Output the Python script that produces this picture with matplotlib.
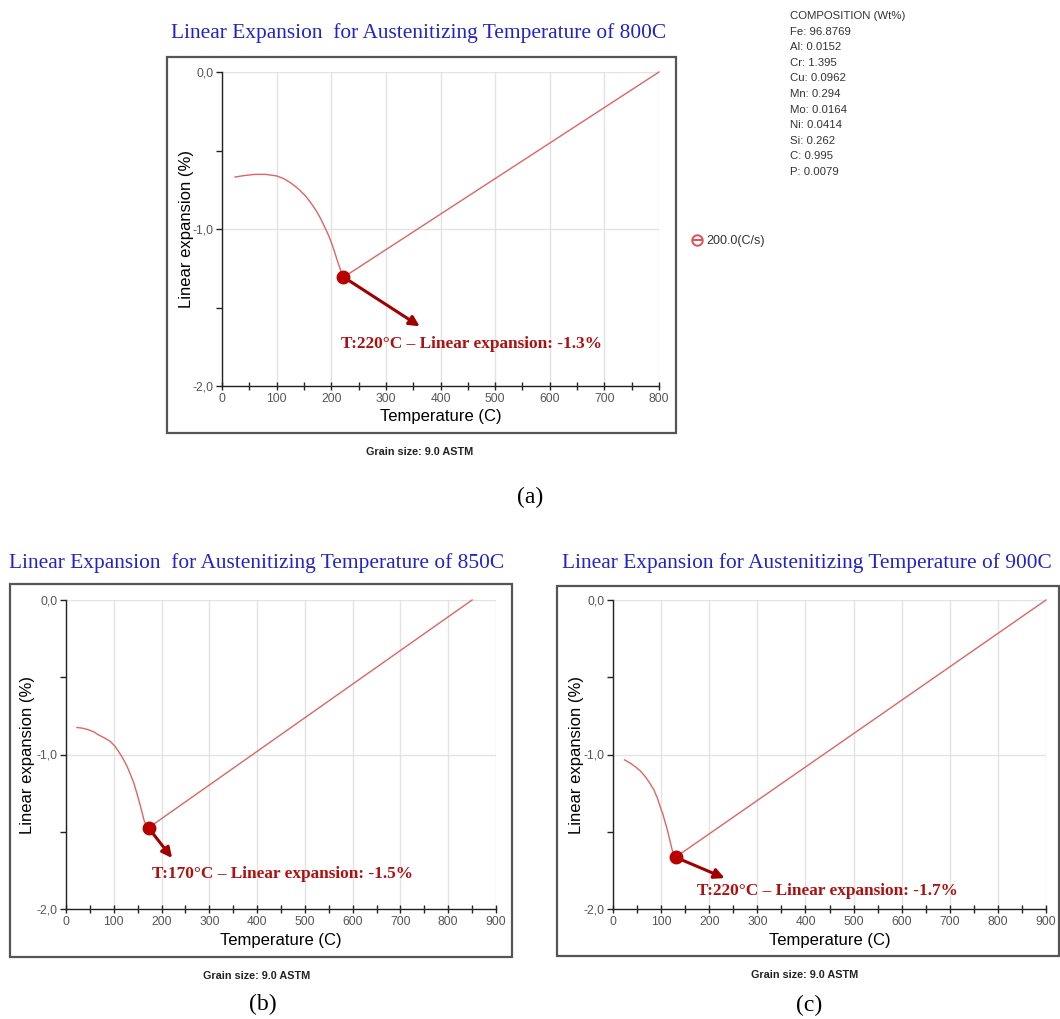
import matplotlib
matplotlib.use("Agg")
import matplotlib.pyplot as plt
from matplotlib.patches import Rectangle
from matplotlib.lines import Line2D
from matplotlib.ticker import FixedLocator, FuncFormatter, MultipleLocator

# ---------------- data ----------------
titles = ["Linear Expansion  for Austenitizing Temperature of 800C",
          "Linear Expansion  for Austenitizing Temperature of 850C",
          "Linear Expansion for Austenitizing Temperature of 900C"]
panel_labels = ["(a)", "(b)", "(c)"]
xmax = [800, 900, 900]

temps_a = [24, 40, 60, 80, 100, 113, 122, 132, 142, 152, 162, 172, 180, 188,
           195, 201, 206, 211, 215, 218, 220, 223, 800]
exp_a = [-0.669, -0.660, -0.652, -0.652, -0.662, -0.679, -0.698, -0.722,
         -0.752, -0.786, -0.830, -0.881, -0.930, -0.987, -1.040, -1.093,
         -1.145, -1.200, -1.240, -1.274, -1.290, -1.306, 0.0]
temps_b = [23, 35, 47, 58, 68, 80, 93, 102, 110, 119, 128, 135, 142, 149,
           156, 160, 164, 168, 173, 850]
exp_b = [-0.825, -0.830, -0.840, -0.853, -0.873, -0.892, -0.916, -0.945,
         -0.980, -1.025, -1.078, -1.130, -1.185, -1.258, -1.336, -1.385,
         -1.433, -1.458, -1.474, 0.0]
temps_c = [24, 35, 46, 57, 67, 76, 85, 92, 98, 104, 109, 114, 118, 122, 125,
           128, 130, 900]
exp_c = [-1.035, -1.054, -1.078, -1.107, -1.143, -1.183, -1.229, -1.280,
         -1.337, -1.390, -1.445, -1.500, -1.553, -1.605, -1.640, -1.658,
         -1.665, 0.0]

marker_t = [222, 173, 130]
marker_e = [-1.305, -1.476, -1.665]
arrow_t = [362, 222, 232]
arrow_e = [-1.62, -1.67, -1.80]
note_t = [218, 180, 175]
note_e = [-1.73, -1.775, -1.885]
notes = ["T:220\u00b0C \u2013 Linear expansion: -1.3%",
         "T:170\u00b0C \u2013 Linear expansion: -1.5%",
         "T:220\u00b0C \u2013 Linear expansion: -1.7%"]

composition = ["COMPOSITION (Wt%)", "Fe: 96.8769", "Al: 0.0152", "Cr: 1.395",
               "Cu: 0.0962", "Mn: 0.294", "Mo: 0.0164", "Ni: 0.0414",
               "Si: 0.262", "C: 0.995", "P: 0.0079"]
legend_label = "200.0(C/s)"
grain_label = "Grain size: 9.0 ASTM"
xlabel = "Temperature (C)"
ylabel = "Linear expansion (%)"
y_ticks = [0.0, -1.0, -2.0]

series = [(temps_a, exp_a), (temps_b, exp_b), (temps_c, exp_c)]

# ---------------- layout (pixels) ----------------
W, H = 1060, 1019
fig = plt.figure(figsize=(W / 100, H / 100), dpi=100)
fig.patch.set_facecolor("white")

def fx(x):
    return x / W

def fy(y):
    return 1 - y / H

axes_px = [(222, 659, 72, 386), (66, 496, 600, 909), (613, 1046, 600, 909)]
frames_px = [(167, 676, 57, 433), (10, 512, 584, 957), (557, 1059, 586, 956)]
title_pos = [(419, 33), (257, 563), (807, 563)]
ylab_x = [187, 28, 576]
xlab_y = [416, 941, 940]
grain_pos = [(420, 452), (257, 976), (805, 975)]
plabel_pos = [(530, 497), (263, 1004), (809, 1005)]

serif = "Liberation Serif"
sans = "Liberation Sans"
line_col = "#e06464"
dark_red = "#b00f0f"

for i in range(3):
    l, r, t, b = axes_px[i]
    ax = fig.add_axes([fx(l), fy(b), (r - l) / W, (b - t) / H])
    ax.set_xlim(0, xmax[i])
    ax.set_ylim(-2.0, 0.0)
    for s in ["top", "right"]:
        ax.spines[s].set_visible(False)
    for s in ["left", "bottom"]:
        ax.spines[s].set_color("#222222")
        ax.spines[s].set_linewidth(1.0)
    ax.xaxis.set_major_locator(MultipleLocator(100))
    ax.xaxis.set_minor_locator(MultipleLocator(50))
    ax.yaxis.set_major_locator(FixedLocator(y_ticks))
    ax.yaxis.set_minor_locator(FixedLocator([-0.5, -1.5]))
    ax.yaxis.set_major_formatter(FuncFormatter(lambda v, p: ("%.1f" % v).replace(".", ",").replace("-0,0", "0,0")))
    ax.tick_params(axis="x", which="both", direction="inout", length=6, width=1, color="#222222",
                   labelsize=8.7, labelcolor="#555555", pad=2)
    ax.tick_params(axis="y", which="both", direction="out", length=4, width=1, color="#222222",
                   labelsize=8.7, labelcolor="#555555", pad=2)
    for lab in ax.get_xticklabels() + ax.get_yticklabels():
        lab.set_fontfamily(sans)
    ax.grid(True, which="major", color="#e3e3e3", linewidth=1.0)
    ax.set_axisbelow(True)

    tt, ee = series[i]
    ax.plot(tt, ee, color=line_col, lw=1.0, clip_on=False, zorder=3)
    ax.plot([marker_t[i]], [marker_e[i]], "o", color="#b80000", ms=9, zorder=5, clip_on=False)
    ax.annotate("", xy=(arrow_t[i], arrow_e[i]), xytext=(marker_t[i], marker_e[i]),
                arrowprops=dict(arrowstyle="-|>,head_length=0.6,head_width=0.3", color="#a00000",
                                lw=2.2, shrinkA=0, shrinkB=0), zorder=4)
    ax.text(note_t[i], note_e[i], notes[i], color=dark_red, fontfamily=serif,
            fontweight="bold", fontsize=12.4, ha="left", va="center", zorder=6)

    # frame
    fl, fr, ft, fb = frames_px[i]
    fig.add_artist(Rectangle((fx(fl), fy(fb)), (fr - fl) / W, (fb - ft) / H,
                             transform=fig.transFigure, fill=False, ec="#555555", lw=1.6))
    # titles and labels
    fig.text(fx(title_pos[i][0]), fy(title_pos[i][1]), titles[i], color="#2222cc",
             fontfamily=serif, fontsize=15.4, ha="center", va="center")
    fig.text(fx(ylab_x[i]), fy((t + b) / 2), ylabel, rotation=90, fontfamily=sans,
             fontsize=12, color="#000000", ha="center", va="center")
    fig.text(fx((l + r) / 2), fy(xlab_y[i]), xlabel, fontfamily=sans,
             fontsize=12, color="#000000", ha="center", va="center")
    fig.text(fx(grain_pos[i][0]), fy(grain_pos[i][1]), grain_label, fontfamily=sans,
             fontsize=7.8, fontweight="bold", color="#222222", ha="center", va="center")
    fig.text(fx(plabel_pos[i][0]), fy(plabel_pos[i][1]), panel_labels[i], fontfamily=serif,
             fontsize=17, color="#000000", ha="center", va="center")

# composition block
for k, line in enumerate(composition):
    fig.text(fx(790), fy(16 + 15.6 * k), line, fontfamily=sans, fontsize=8.2,
             color="#333333", ha="left", va="center")

# legend entry
fig.add_artist(Line2D([fx(697)], [fy(240)], marker="o", ms=7.5, mfc="none", mec="#e05050",
                      mew=1.4, transform=fig.transFigure))
fig.add_artist(Line2D([fx(692.5), fx(701.5)], [fy(240), fy(240)], color="#e05050", lw=1.4,
                      transform=fig.transFigure))
fig.text(fx(706), fy(241), legend_label, fontfamily=sans, fontsize=9, color="#333333",
         ha="left", va="center")

fig.savefig("out.png", dpi=100, facecolor="white")
